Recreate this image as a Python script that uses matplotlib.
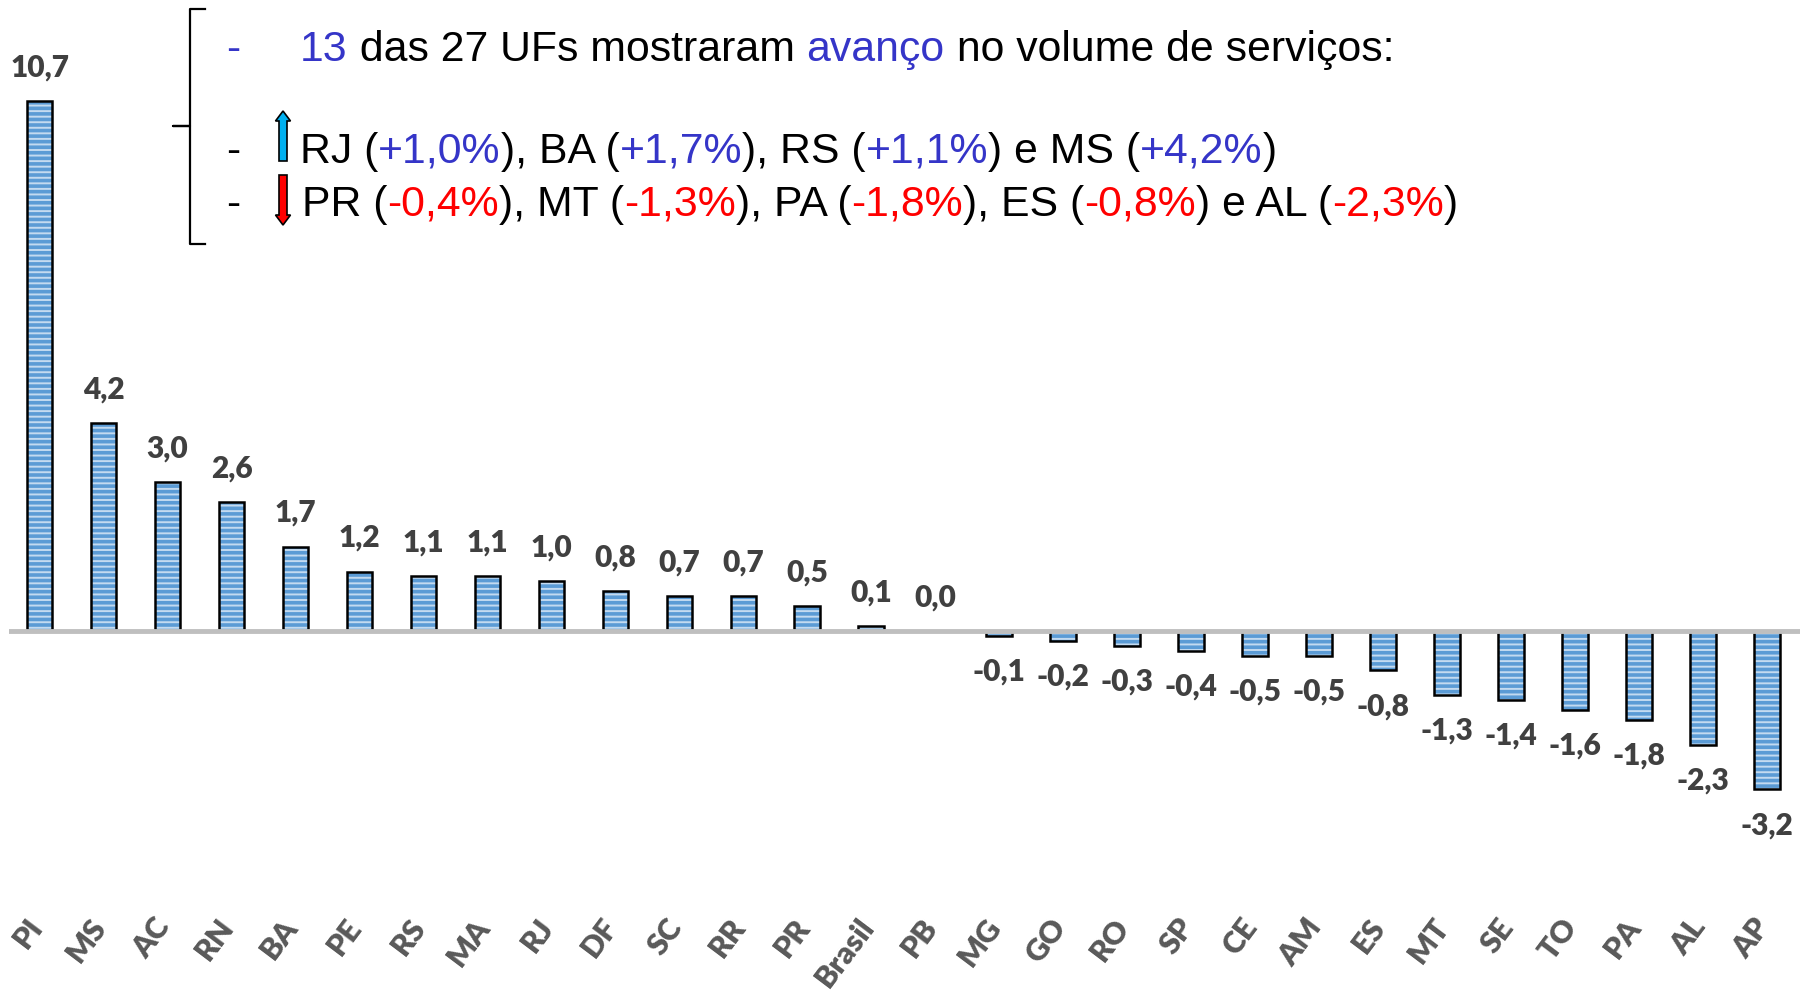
import matplotlib
matplotlib.use("Agg")
import matplotlib.pyplot as plt
import matplotlib.transforms as mtransforms
from matplotlib.patches import FancyArrow
from matplotlib.lines import Line2D
import numpy as np

# variação mensal do volume de serviços por UF (%)
ufs = ['PI', 'MS', 'AC', 'RN', 'BA', 'PE', 'RS', 'MA', 'RJ', 'DF', 'SC', 'RR', 'PR',
       'Brasil', 'PB', 'MG', 'GO', 'RO', 'SP', 'CE', 'AM', 'ES', 'MT', 'SE', 'TO',
       'PA', 'AL', 'AP']
variacao = [10.7, 4.2, 3.0, 2.6, 1.7, 1.2, 1.1, 1.1, 1.0, 0.8, 0.7, 0.7, 0.5,
            0.1, 0.0, -0.1, -0.2, -0.3, -0.4, -0.5, -0.5, -0.8, -1.3, -1.4, -1.6,
            -1.8, -2.3, -3.2]

W, H = 1811, 995
plt.rcParams['hatch.linewidth'] = 2.6

fig = plt.figure(figsize=(W / 100, H / 100), dpi=100)
ax = fig.add_axes([9 / W, (H - 905) / H, (1800 - 9) / W, (905 - 50) / H])

x = np.arange(len(ufs))
# listras horizontais + contorno preto
ax.bar(x, variacao, width=0.4, color='#C3DAF0', edgecolor='#5B9BD5',
       hatch='---', linewidth=0, zorder=2)
ax.bar(x, variacao, width=0.4, fill=False, edgecolor='black', linewidth=1.8, zorder=2)
ax.axhline(0, color='#BFBFBF', lw=3.5, zorder=3)

ax.set_xlim(-0.48, len(ufs) - 0.48)
ax.set_ylim(-5.52, 11.76)
for s in ax.spines.values():
    s.set_visible(False)
ax.set_yticks([])

for i, v in enumerate(variacao):
    txt = f"{v:.1f}".replace('.', ',')
    if v >= 0:
        ax.annotate(txt, (i, v), xytext=(0, 15), textcoords='offset points',
                    ha='center', va='bottom', fontsize=21.5, fontweight='heavy',
                    color='#404040', family='Lato')
    else:
        ax.annotate(txt, (i, v), xytext=(0, -15), textcoords='offset points',
                    ha='center', va='top', fontsize=21.5, fontweight='heavy',
                    color='#404040', family='Lato')

ax.set_xticks(x)
ax.set_xticklabels(ufs, rotation=53, ha='right', va='top', fontsize=22,
                   fontweight='heavy', color='#595959', family='Lato')
ax.tick_params(axis='x', length=0, pad=6)
shift = mtransforms.ScaledTranslation(0.08, 0, fig.dpi_scale_trans)
for lbl in ax.get_xticklabels():
    lbl.set_transform(lbl.get_transform() + shift)


def px(xp, yp):
    return xp / W, 1 - yp / H


# chave
bx = [205, 190, 190, 173, 190, 190, 205]
by = [10, 10, 127, 127, 127, 245, 245]
fig.add_artist(Line2D([b / W for b in bx], [1 - b / H for b in by],
                      color='black', lw=1.6))

BLUE = '#3535C8'
RED = '#FF0000'
FS = 30.8


def rainbow(xp, yp, parts):
    fx, fy = px(xp, yp)
    t = fig.text(fx, fy, parts[0][0], color=parts[0][1], fontsize=FS,
                 family='Liberation Sans', va='baseline')
    for s, c in parts[1:]:
        t = ax.annotate(s, xy=(1, 0), xycoords=t, va='bottom', ha='left',
                        color=c, fontsize=FS, family='Liberation Sans')


for yp, col in [(61, BLUE), (163, 'black'), (216, 'black')]:
    fx, fy = px(226, yp)
    fig.text(fx, fy, '-', color=col, fontsize=FS, family='Liberation Sans', va='baseline')

rainbow(300, 61, [('13', BLUE), (' das 27 UFs mostraram ', 'black'),
                  ('avanço', BLUE), (' no volume de serviços:', 'black')])
rainbow(300, 163, [('RJ (', 'black'), ('+1,0%', BLUE), ('), BA (', 'black'),
                   ('+1,7%', BLUE), ('), RS (', 'black'), ('+1,1%', BLUE),
                   (') e MS (', 'black'), ('+4,2%', BLUE), (')', 'black')])
rainbow(302, 216, [('PR (', 'black'), ('-0,4%', RED), ('), MT (', 'black'),
                   ('-1,3%', RED), ('), PA (', 'black'), ('-1,8%', RED),
                   ('), ES (', 'black'), ('-0,8%', RED), (') e AL (', 'black'),
                   ('-2,3%', RED), (')', 'black')])

# setas
ax0, ay0 = px(283, 162)
_, ay1 = px(283, 112)
fig.add_artist(FancyArrow(ax0, ay0, 0, ay1 - ay0, width=8 / W, head_width=15 / W,
                          head_length=10 / H, length_includes_head=True,
                          facecolor='#00B0F0', edgecolor='black', lw=1.2,
                          transform=fig.transFigure))
ax0, ay0 = px(283, 176)
_, ay1 = px(283, 226)
fig.add_artist(FancyArrow(ax0, ay0, 0, ay1 - ay0, width=8 / W, head_width=15 / W,
                          head_length=10 / H, length_includes_head=True,
                          facecolor='#FF0000', edgecolor='black', lw=1.2,
                          transform=fig.transFigure))

fig.savefig('out.png', dpi=100, facecolor='white')
